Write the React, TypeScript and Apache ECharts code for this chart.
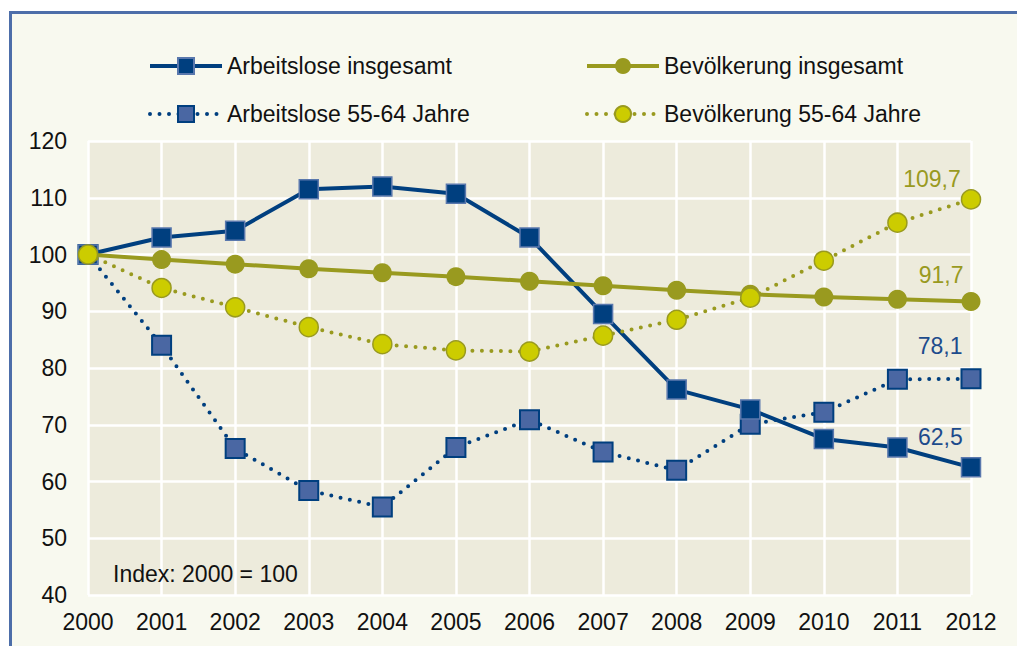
import React, { useEffect, useRef } from "react";
import * as echarts from "echarts";

const years = ["2000", "2001", "2002", "2003", "2004", "2005", "2006", "2007", "2008", "2009", "2010", "2011", "2012"];
const arbeitsloseGesamt = [100, 103.0, 104.2, 111.5, 112.0, 110.7, 103.0, 89.5, 76.2, 72.7, 67.5, 66.0, 62.5];
const arbeitslose5564 = [100, 84.0, 65.8, 58.4, 55.5, 66.0, 70.9, 65.2, 62.0, 70.1, 72.2, 78.0, 78.1];
const bevGesamt = [100, 99.1, 98.3, 97.5, 96.8, 96.1, 95.3, 94.5, 93.7, 93.0, 92.5, 92.1, 91.7];
const bev5564 = [100, 94.1, 90.7, 87.2, 84.2, 83.1, 82.9, 85.7, 88.5, 92.4, 98.9, 105.6, 109.7];
const yTicks = { min: 40, max: 120, interval: 10 };

const FONT = "'Liberation Sans', Arial, sans-serif";
const FS = 23;
const BLUE = "#003f7f";
const BLUE_MID = "#4a67a3";
const OLIVE = "#999a1f";
const YELLOW = "#cccc00";
const DOTS = [0, 9.5];

function lastLabel(data: number[], color: string, pos: [number, number]) {
  return data.map((v, i) =>
    i === data.length - 1
      ? {
          value: v,
          label: {
            show: true,
            position: pos,
            align: "right",
            verticalAlign: "middle",
            color,
            fontSize: FS,
            fontFamily: FONT,
            formatter: () => v.toFixed(1).replace(".", ","),
          },
        }
      : v
  );
}

export default function App() {
  const ref = useRef<HTMLDivElement>(null);
  useEffect(() => {
    if (!ref.current) return;
    const chart = echarts.init(ref.current, undefined, { renderer: "svg" });
    const legendBase = {
      itemWidth: 72,
      itemHeight: 20,
      itemGap: 0,
      textStyle: { fontSize: FS, fontFamily: FONT, color: "#111", lineHeight: 26 },
      selectedMode: false,
    };
    chart.setOption({
      animation: false,
      backgroundColor: "transparent",
      textStyle: { fontFamily: FONT },
      graphic: {
        elements: [
          {
            type: "text",
            z: 100,
            x: 113,
            y: 574,
            style: {
              text: "Index: 2000 = 100",
              fontSize: FS,
              fontFamily: FONT,
              fill: "#111",
              verticalAlign: "middle",
            },
          },
        ],
      },
      legend: [
        {
          ...legendBase,
          data: ["Arbeitslose insgesamt"],
          left: 143,
          top: 48,
          lineStyle: { width: 4, color: BLUE },
        },
        {
          ...legendBase,
          data: ["Bevölkerung insgesamt"],
          left: 580,
          top: 48,
          lineStyle: { width: 4, color: OLIVE },
        },
        {
          ...legendBase,
          data: ["Arbeitslose 55-64 Jahre"],
          left: 143,
          top: 96,
          lineStyle: { width: 4, color: BLUE, type: DOTS, cap: "round" },
        },
        {
          ...legendBase,
          data: ["Bevölkerung 55-64 Jahre"],
          left: 580,
          top: 96,
          lineStyle: { width: 4, color: OLIVE, type: DOTS, cap: "round" },
        },
      ],
      grid: {
        left: 88,
        right: 46,
        top: 141,
        bottom: 51,
        show: true,
        backgroundColor: "#edebdc",
        borderWidth: 0,
      },
      xAxis: {
        type: "category",
        data: years,
        boundaryGap: false,
        axisLine: { show: false },
        axisTick: { show: false },
        axisLabel: { fontSize: FS, color: "#111", fontFamily: FONT, margin: 15 },
        splitLine: { show: true, lineStyle: { color: "#ffffff", width: 2.5 } },
      },
      yAxis: {
        type: "value",
        min: yTicks.min,
        max: yTicks.max,
        interval: yTicks.interval,
        axisLine: { show: false },
        axisTick: { show: false },
        axisLabel: { fontSize: FS, color: "#111", fontFamily: FONT, margin: 21 },
        splitLine: { show: true, lineStyle: { color: "#ffffff", width: 2.5 } },
      },
      series: [
        {
          name: "Arbeitslose 55-64 Jahre",
          type: "line",
          data: lastLabel(arbeitslose5564, "#1d4b8c", [2, -22]),
          symbol: "rect",
          symbolSize: 19,
          lineStyle: { color: BLUE, width: 4, type: DOTS, cap: "round" },
          itemStyle: { color: BLUE_MID, borderColor: BLUE, borderWidth: 2 },
          z: 2,
        },
        {
          name: "Arbeitslose insgesamt",
          type: "line",
          data: lastLabel(arbeitsloseGesamt, "#1d4b8c", [2, -20]),
          symbol: "rect",
          symbolSize: 19,
          lineStyle: { color: BLUE, width: 4 },
          itemStyle: { color: BLUE, borderColor: "#5a78ad", borderWidth: 1.5 },
          z: 3,
        },
        {
          name: "Bevölkerung insgesamt",
          type: "line",
          data: lastLabel(bevGesamt, OLIVE, [2, -17]),
          symbol: "circle",
          symbolSize: 19,
          lineStyle: { color: OLIVE, width: 4 },
          itemStyle: { color: OLIVE, borderColor: OLIVE, borderWidth: 0 },
          z: 4,
        },
        {
          name: "Bevölkerung 55-64 Jahre",
          type: "line",
          data: lastLabel(bev5564, OLIVE, [0, -10]),
          symbol: "circle",
          symbolSize: 19,
          lineStyle: { color: OLIVE, width: 4, type: DOTS, cap: "round" },
          itemStyle: { color: YELLOW, borderColor: OLIVE, borderWidth: 1.5 },
          z: 5,
        },
      ],
    });
    return () => chart.dispose();
  }, []);
  return (
    <div
      style={{
        position: "fixed",
        left: 0,
        top: 0,
        width: 1017,
        height: 646,
        overflow: "hidden",
        background: "#ffffff",
      }}
    >
      <div
        style={{
          position: "absolute",
          left: 9,
          top: 11,
          width: 1200,
          height: 800,
          borderLeft: "3px solid #4d6ea9",
          borderTop: "3px solid #4d6ea9",
          background: "#f8f9ef",
        }}
      />
      <div
        ref={ref}
        style={{ position: "absolute", left: 0, top: 0, width: 1017, height: 646 }}
      />
    </div>
  );
}
